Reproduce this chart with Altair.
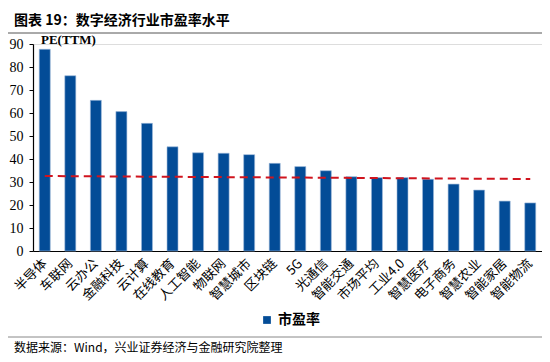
import altair as alt
import pandas as pd

categories = ["半导体", "车联网", "云办公", "金融科技", "云计算", "在线教育", "人工智能", "物联网",
              "智慧城市", "区块链", "5G", "光通信", "智能交通", "市场平均", "工业4.0", "智慧医疗",
              "电子商务", "智慧农业", "智能家居", "智能物流"]
pe_values = [87.7, 76.2, 65.5, 60.6, 55.5, 45.3, 42.7, 42.5, 41.9, 38.1, 36.7, 34.9, 32.3, 31.9,
             31.9, 31.2, 29.1, 26.5, 21.7, 20.9]
avg_categories = ["半导体", "智能物流"]
avg_values = [32.6, 31.3]
y_ticks = [0, 10, 20, 30, 40, 50, 60, 70, 80, 90]

title_text = "图表 19：数字经济行业市盈率水平"
source_text = "数据来源：Wind，兴业证券经济与金融研究院整理"
series_name = "市盈率"

CJK = "Noto Sans CJK SC"
SERIF = "Liberation Serif"

df = pd.DataFrame({"category": categories, "pe": pe_values, "series": series_name})
avg_df = pd.DataFrame({"category": avg_categories, "pe": avg_values})

W, H = 509, 207

xscale = alt.Scale(domain=categories, paddingInner=0.57, paddingOuter=0.245)
yscale = alt.Scale(domain=[0, 90], nice=False)

x_axis = alt.Axis(labelAngle=315, labelFont=CJK, labelFontSize=13, labelColor="#000",
                  ticks=False, domainColor="#000", domainWidth=1.2, labelPadding=10,
                  labelAlign="right", labelBaseline="middle", labelOverlap=False)
y_axis = alt.Axis(values=y_ticks, tickCount=10, grid=False, labelFont=SERIF, labelFontSize=14,
                  labelColor="#000", tickColor="#000", tickSize=4, domainColor="#000",
                  domainWidth=1.2, labelPadding=6, labelOverlap=False)

bars = alt.Chart(df).mark_bar(stroke="#9DB8DA", strokeWidth=0.6).encode(
    x=alt.X("category:N", sort=categories, scale=xscale, title=None, axis=x_axis),
    y=alt.Y("pe:Q", scale=yscale, title=None, axis=y_axis),
    color=alt.Color("series:N", scale=alt.Scale(domain=[series_name], range=["#034C97"]),
                    legend=alt.Legend(title=None, orient="none", legendX=227, legendY=269,
                                      symbolType="square", symbolSize=60, symbolStrokeWidth=0,
                                      labelFont=CJK, labelFontSize=14, labelColor="#000",
                                      labelFontWeight="bold")),
)

avg_line = alt.Chart(avg_df).mark_line(color="#D0141E", strokeWidth=2, strokeDash=[8, 5]).encode(
    x=alt.X("category:N", sort=categories, scale=xscale, title=None, axis=x_axis),
    y=alt.Y("pe:Q", scale=yscale, title=None, axis=y_axis),
)

def text_layer(txt, x, y, font, size, weight="normal", align="left"):
    return alt.Chart(pd.DataFrame({"t": [txt]})).mark_text(
        font=font, fontSize=size, fontWeight=weight, align=align, baseline="middle", color="#000"
    ).encode(text="t:N", x=alt.value(x), y=alt.value(y))

title = text_layer(title_text, -19, -23, CJK, 14, "bold")
pe_label = text_layer("PE(TTM)", 8, -4, SERIF, 13, "bold")
source = text_layer(source_text, -19, 304, CJK, 12)

top_rule = alt.Chart(pd.DataFrame({"a": [0]})).mark_rule(color="#555", strokeWidth=1).encode(
    x=alt.value(-25), x2=alt.value(512), y=alt.value(-11))
bottom_rule = alt.Chart(pd.DataFrame({"a": [0]})).mark_rule(color="#888", strokeWidth=1).encode(
    x=alt.value(-25), x2=alt.value(512), y=alt.value(293))

chart = alt.layer(bars, avg_line, title, pe_label, source, top_rule, bottom_rule).properties(
    width=W, height=H,
    autosize=alt.AutoSizeParams(type="none"),
    padding={"left": 25, "top": 36, "right": 0, "bottom": 103},
).configure_view(stroke=None).configure(background="white")

chart.save("out.html", embed_options={"renderer": "svg", "actions": False})
